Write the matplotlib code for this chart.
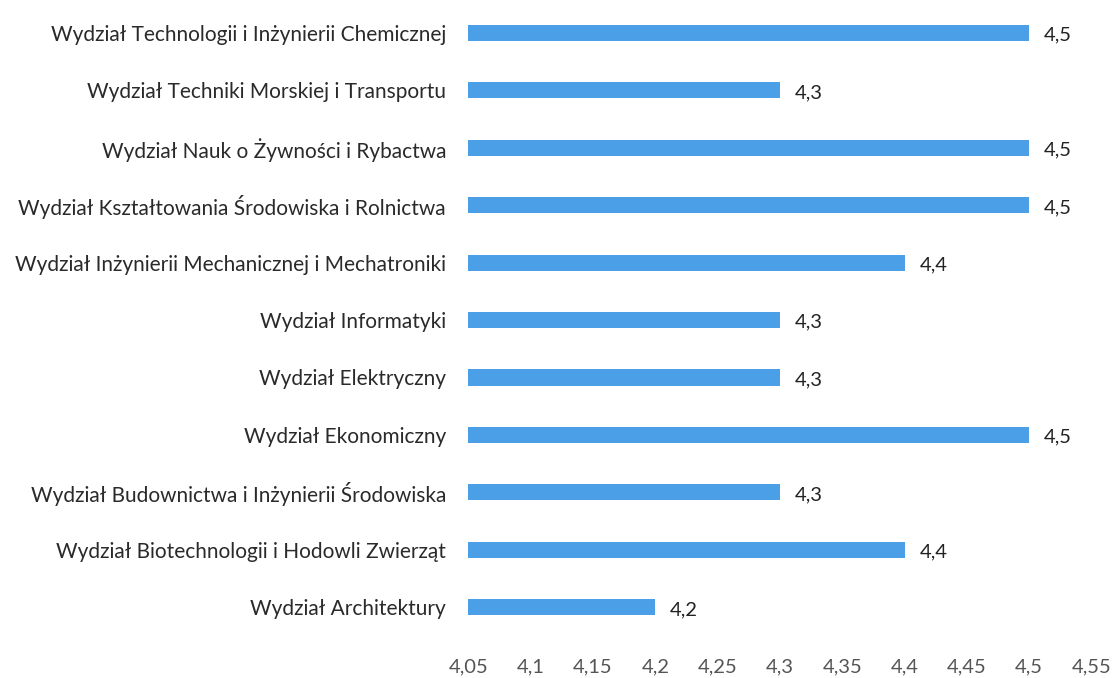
import matplotlib.pyplot as plt
from matplotlib.ticker import FuncFormatter

plt.rcParams['font.family'] = ['Lato', 'DejaVu Sans']

wydzialy = [
    'Wydział Technologii i Inżynierii Chemicznej',
    'Wydział Techniki Morskiej i Transportu',
    'Wydział Nauk o Żywności i Rybactwa',
    'Wydział Kształtowania Środowiska i Rolnictwa',
    'Wydział Inżynierii Mechanicznej i Mechatroniki',
    'Wydział Informatyki',
    'Wydział Elektryczny',
    'Wydział Ekonomiczny',
    'Wydział Budownictwa i Inżynierii Środowiska',
    'Wydział Biotechnologii i Hodowli Zwierząt',
    'Wydział Architektury',
]
oceny = [4.5, 4.3, 4.5, 4.5, 4.4, 4.3, 4.3, 4.5, 4.3, 4.4, 4.2]
x_ticks = [4.05, 4.1, 4.15, 4.2, 4.25, 4.3, 4.35, 4.4, 4.45, 4.5, 4.55]

def przecinek(v):
    return ('%g' % round(v, 2)).replace('.', ',')

fig = plt.figure(figsize=(11.15, 6.78), dpi=100)
ax = fig.add_axes([0.42, 0.062, 0.559, 0.932])

pos = list(range(len(wydzialy)))[::-1]
ax.barh(pos, [v - 4.05 for v in oceny], left=4.05, height=0.28, color='#4A9FE6')
for p, v in zip(pos, oceny):
    ax.text(v + 0.012, p - 0.04, przecinek(v), va='center', ha='left',
            fontsize=14.5, color='#222222')

ax.set_xlim(4.05, 4.55)
ax.set_ylim(-0.5, 10.5)
ax.set_xticks(x_ticks)
ax.xaxis.set_major_formatter(FuncFormatter(lambda v, _: przecinek(v)))
ax.set_yticks(pos)
ax.set_yticklabels(wydzialy)
ax.tick_params(axis='y', length=0, pad=16, labelsize=15, labelcolor='#2a2a2a')
ax.tick_params(axis='x', length=0, pad=16, labelsize=14.5, labelcolor='#555555')
for s in ax.spines.values():
    s.set_visible(False)

fig.savefig('out.png', dpi=100)
